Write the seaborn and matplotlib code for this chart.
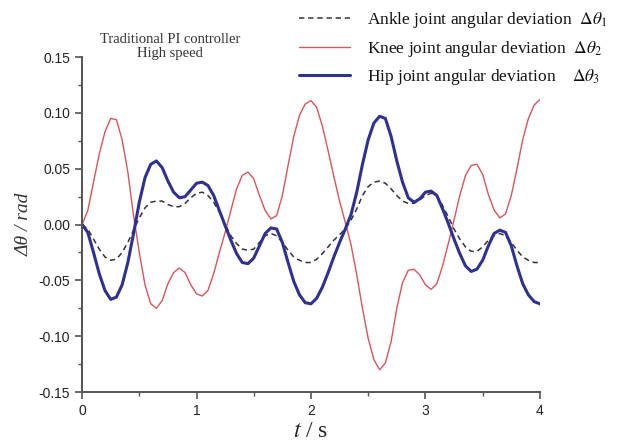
import matplotlib
import matplotlib.pyplot as plt
import pandas as pd
import seaborn as sns
from matplotlib.ticker import MultipleLocator, FormatStrFormatter

matplotlib.use("Agg")

# time axis, 0.05 s steps
t = [i * 0.05 for i in range(81)]

# knee joint (red)
knee = [
    0.000, 0.0125, 0.038, 0.063, 0.083, 0.095, 0.094, 0.076, 0.047, 0.008,
    -0.025, -0.054, -0.071, -0.075, -0.068, -0.053, -0.043, -0.039, -0.043, -0.054,
    -0.062, -0.064, -0.059, -0.044, -0.025, -0.007, 0.0125, 0.032, 0.044, 0.047,
    0.041, 0.026, 0.0125, 0.005, 0.008, 0.026, 0.053, 0.079, 0.098, 0.108,
    0.111, 0.105, 0.088, 0.066, 0.043, 0.021, 0.002, -0.018, -0.045, -0.075,
    -0.102, -0.121, -0.130, -0.124, -0.105, -0.075, -0.052, -0.041, -0.040, -0.045,
    -0.054, -0.058, -0.053, -0.037, -0.017, 0.004, 0.026, 0.044, 0.053, 0.054,
    0.045, 0.027, 0.013, 0.006, 0.0095, 0.026, 0.050, 0.076, 0.095, 0.107,
    0.112,
]

# hip joint (blue)
hip = [
    0.000, -0.007, -0.025, -0.044, -0.059, -0.067, -0.065, -0.054, -0.034, -0.008,
    0.020, 0.042, 0.054, 0.057, 0.051, 0.039, 0.029, 0.024, 0.025, 0.031,
    0.037, 0.038, 0.035, 0.026, 0.0125, -0.001, -0.014, -0.026, -0.034, -0.035,
    -0.030, -0.019, -0.008, -0.003, -0.004, -0.016, -0.034, -0.051, -0.063, -0.070,
    -0.071, -0.066, -0.056, -0.043, -0.029, -0.016, -0.004, 0.009, 0.029, 0.054,
    0.076, 0.091, 0.097, 0.095, 0.079, 0.057, 0.038, 0.024, 0.020, 0.023,
    0.029, 0.030, 0.026, 0.014, 0.001, -0.013, -0.026, -0.037, -0.042, -0.040,
    -0.032, -0.019, -0.008, -0.005, -0.007, -0.019, -0.037, -0.053, -0.063, -0.069,
    -0.071,
]

# ankle joint (dashed)
ankle = [
    0.000, -0.004, -0.013, -0.022, -0.029, -0.032, -0.031, -0.025, -0.016, -0.005,
    0.006, 0.015, 0.020, 0.021, 0.021, 0.018, 0.016, 0.016, 0.019, 0.024,
    0.028, 0.029, 0.026, 0.020, 0.011, 0.000, -0.010, -0.017, -0.022, -0.023,
    -0.022, -0.016, -0.010, -0.008, -0.010, -0.016, -0.023, -0.029, -0.032, -0.034,
    -0.034, -0.031, -0.026, -0.020, -0.014, -0.009, -0.004, 0.004, 0.014, 0.026,
    0.034, 0.038, 0.039, 0.037, 0.032, 0.026, 0.021, 0.019, 0.019, 0.022,
    0.026, 0.028, 0.026, 0.017, 0.007, -0.004, -0.013, -0.020, -0.024, -0.024,
    -0.020, -0.014, -0.010, -0.008, -0.010, -0.016, -0.023, -0.029, -0.032, -0.034,
    -0.034,
]

df = pd.DataFrame({"t": t, "ankle": ankle, "knee": knee, "hip": hip})

sns.set_style("ticks")
plt.rcParams["font.family"] = ["Liberation Sans", "DejaVu Sans"]
plt.rcParams["mathtext.fontset"] = "stix"
plt.rcParams["axes.unicode_minus"] = False

fig = plt.figure(figsize=(6.17, 4.46), dpi=100)
ax = fig.add_axes([0.133, 0.121, 0.742, 0.751])

sns.lineplot(data=df, x="t", y="ankle", ax=ax, color="#333333", linewidth=1.1,
             label=r"Ankle joint angular deviation  $\Delta\theta_1$")
ax.lines[-1].set_linestyle((0, (3.5, 2.5)))
sns.lineplot(data=df, x="t", y="knee", ax=ax, color="#d9545c", linewidth=1.0,
             label=r"Knee joint angular deviation  $\Delta\theta_2$")
sns.lineplot(data=df, x="t", y="hip", ax=ax, color="#2e3192", linewidth=2.2,
             label=r"Hip joint angular deviation    $\Delta\theta_3$")

ax.set_xlim(0, 4)
ax.set_ylim(-0.15, 0.15)
ax.xaxis.set_major_locator(MultipleLocator(1))
ax.xaxis.set_minor_locator(MultipleLocator(0.5))
ax.yaxis.set_major_locator(MultipleLocator(0.05))
ax.yaxis.set_minor_locator(MultipleLocator(0.025))
ax.yaxis.set_major_formatter(FormatStrFormatter("%.2f"))

sns.despine(ax=ax)
for side in ["left", "bottom"]:
    ax.spines[side].set_color("#555555")
    ax.spines[side].set_linewidth(1.4)
ax.tick_params(which="major", direction="out", length=5, width=1.2,
               color="#555555", labelsize=10, labelcolor="#222222")
ax.tick_params(which="minor", direction="out", length=3, width=1.0, color="#555555")

ax.set_xlabel(r"$t$ / s", fontsize=17, family="Liberation Serif", labelpad=2)
ax.set_ylabel("Δθ / rad", fontsize=14, family="Liberation Serif",
              style="italic", labelpad=4, color="#333333")

# title text inside the figure, top left
fig.text(0.276, 0.866, "Traditional PI controller\nHigh speed",
         ha="center", va="bottom", fontsize=10.5, family="Liberation Serif",
         color="#333333", linespacing=1.05)

leg = ax.legend(loc="upper right", bbox_to_anchor=(1.01, 1.012),
                bbox_transform=fig.transFigure, frameon=False,
                prop={"family": "Liberation Serif", "size": 12.5},
                handlelength=2.9, handletextpad=1.0, labelspacing=0.48)
for txt in leg.get_texts():
    txt.set_color("#111111")

plt.savefig("out.png", dpi=100)
plt.close()
